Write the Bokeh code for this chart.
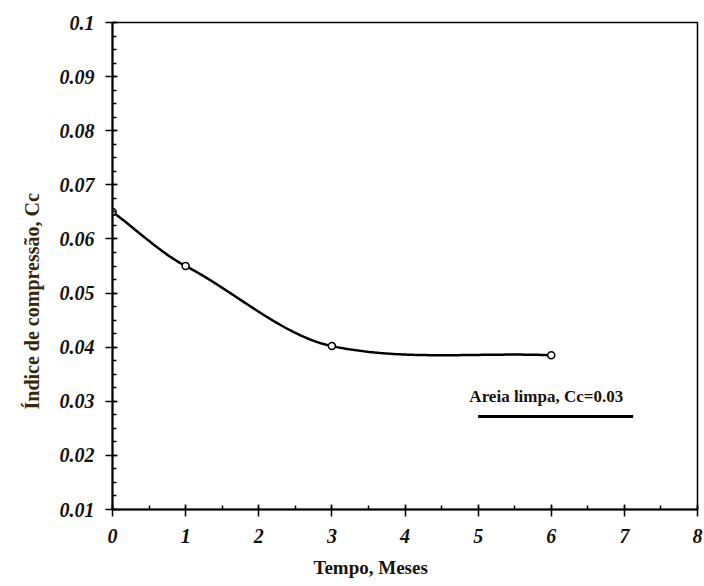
import numpy as np
from bokeh.plotting import figure
from bokeh.models import FixedTicker, Label, Title
from bokeh.embed import file_html
from bokeh.resources import INLINE

# data
tempo_meses = [0, 1, 3, 6]
indice_cc = [0.065, 0.055, 0.0402, 0.0385]
areia_x = [5.0, 7.12]
areia_y = [0.0272, 0.0272]
x_ticks = [0, 1, 2, 3, 4, 5, 6, 7, 8]
y_ticks = [0.01, 0.02, 0.03, 0.04, 0.05, 0.06, 0.07, 0.08, 0.09, 0.1]
y_tick_labels = ["0.01", "0.02", "0.03", "0.04", "0.05", "0.06", "0.07", "0.08", "0.09", "0.1"]
x_title = "Tempo, Meses"
y_title = "Índice de compressão, Cc"
areia_text = "Areia limpa, Cc=0.03"


def cardinal(x, y, xs, scale=0.85):
    """Smooth drawing curve through the given points (cardinal spline)."""
    x = np.asarray(x, float); y = np.asarray(y, float)
    n = len(x); h = np.diff(x)
    m = np.zeros(n)
    m[0] = (y[1] - y[0]) / h[0]
    m[-1] = (y[-1] - y[-2]) / h[-1]
    for k in range(1, n - 1):
        m[k] = scale * (y[k + 1] - y[k - 1]) / (x[k + 1] - x[k - 1])
    out = []
    for xv in xs:
        k = min(np.searchsorted(x, xv, side="right") - 1, n - 2)
        t = (xv - x[k]) / h[k]
        h00 = 2 * t**3 - 3 * t**2 + 1; h10 = t**3 - 2 * t**2 + t
        h01 = -2 * t**3 + 3 * t**2; h11 = t**3 - t**2
        out.append(h00 * y[k] + h10 * h[k] * m[k] + h01 * y[k + 1] + h11 * h[k] * m[k + 1])
    return np.array(out)


xs = np.linspace(tempo_meses[0], tempo_meses[-1], 240)
ys = cardinal(tempo_meses, indice_cc, xs)

p = figure(width=704, height=586, output_backend="svg", toolbar_location=None,
           x_range=(0, 8), y_range=(0.01, 0.1),
           min_border_left=112, min_border_right=7, min_border_top=22, min_border_bottom=76)
p.xgrid.visible = False
p.ygrid.visible = False
p.outline_line_color = "black"
p.outline_line_width = 1.5
p.background_fill_color = "white"
p.border_fill_color = "white"

p.xaxis.ticker = FixedTicker(ticks=x_ticks, minor_ticks=list(np.arange(0, 8.01, 0.5)))
p.yaxis.ticker = FixedTicker(ticks=y_ticks, minor_ticks=list(np.round(np.arange(0.01, 0.1001, 0.0025), 5)))
p.yaxis.major_label_overrides = {t: l for t, l in zip(y_ticks, y_tick_labels)}

for ax in (p.xaxis[0], p.yaxis[0]):
    ax.axis_line_width = 2
    ax.axis_line_color = "black"
    ax.major_tick_line_width = 1.5
    ax.minor_tick_line_width = 1.5
    ax.major_tick_out = 7
    ax.major_tick_in = 5
    ax.minor_tick_in = 4
    ax.minor_tick_out = 0
    ax.major_label_text_font = "Liberation Serif"
    ax.major_label_text_font_style = "bold italic"
    ax.major_label_text_font_size = "20px"
    ax.major_label_text_color = "#111111"

p.yaxis.major_label_standoff = 11
p.xaxis.major_label_standoff = 12

p.line(xs, ys, line_color="black", line_width=2.5)
p.scatter(tempo_meses, indice_cc, marker="circle", size=7, fill_color="white",
          line_color="black", line_width=1.5)
p.line(areia_x, areia_y, line_color="black", line_width=3)

p.add_layout(Label(x=4.88, y=0.0309, text=areia_text,
                   text_font="Liberation Serif", text_font_style="bold",
                   text_font_size="17px", text_color="#1a1208", text_baseline="alphabetic"))

# axis titles
p.add_layout(Title(text=x_title, align="left", offset=201, standoff=18,
                   text_font="Liberation Serif", text_font_style="bold",
                   text_font_size="19px", text_color="#1a1208"), "below")
p.add_layout(Title(text=y_title, align="left", offset=100, standoff=27,
                   text_font="Liberation Serif", text_font_style="bold",
                   text_font_size="20px", text_color="#3a2608"), "left")

open("out.html", "w").write(file_html(p, INLINE))
